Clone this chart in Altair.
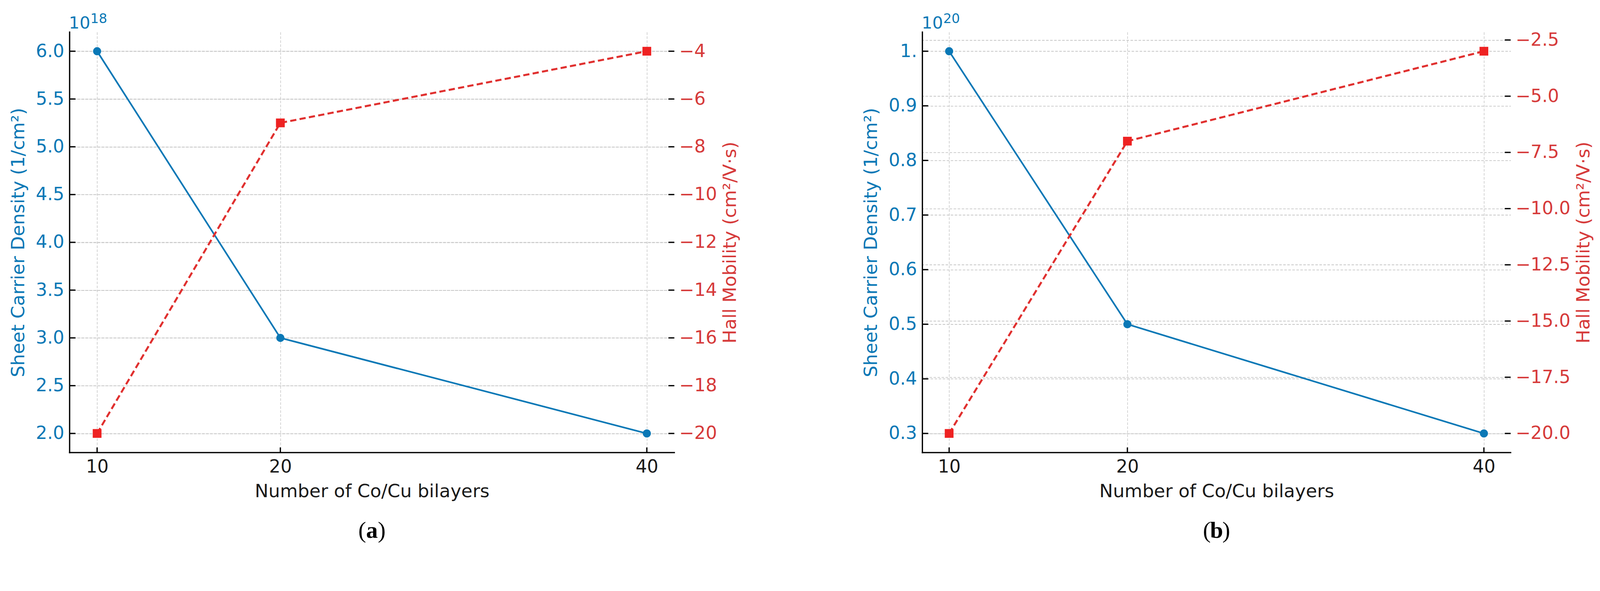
import altair as alt
import pandas as pd

# ---------------- data ----------------
bilayers = [10, 20, 40]

a_density = [6.0, 3.0, 2.0]        # sheet carrier density, x10^18 1/cm²
a_mobility = [-20.0, -7.0, -4.0]   # Hall mobility, cm²/V·s

b_density = [1.0, 0.5, 0.3]        # sheet carrier density, x10^20 1/cm²
b_mobility = [-20.0, -7.0, -3.0]   # Hall mobility, cm²/V·s

x_ticks = [10, 20, 40]
a_left_ticks = [2.0, 2.5, 3.0, 3.5, 4.0, 4.5, 5.0, 5.5, 6.0]
a_left_labels = ["2.0", "2.5", "3.0", "3.5", "4.0", "4.5", "5.0", "5.5", "6.0"]
a_right_ticks = [-20, -18, -16, -14, -12, -10, -8, -6, -4]
b_left_ticks = [0.3, 0.4, 0.5, 0.6, 0.7, 0.8, 0.9, 1.0]
b_left_labels = ["0.3", "0.4", "0.5", "0.6", "0.7", "0.8", "0.9", "1."]
b_right_ticks = [-20.0, -17.5, -15.0, -12.5, -10.0, -7.5, -5.0, -2.5]

exp_base = "10"
exp_powers = ["18", "20"]
captions = ["a", "b"]

x_title = "Number of Co/Cu bilayers"
left_title = "Sheet Carrier Density (1/cm²)"
right_title = "Hall Mobility (cm²/V·s)"

# ---------------- style ----------------
BLUE = "#0a78b6"
RED_LINE = "#e0302f"
RED_MARK = "#ee2222"
RED_TEXT = "#d63a3a"
GRID = "#c6c6c6"
FONT = "DejaVu Sans"
TICK = 16
H = 1150
LAB = 49
TIT = 50


def label_expr(ticks, labels):
    parts = [f"abs(datum.value - ({t})) < 1e-6 ? '{l}'" for t, l in zip(ticks, labels)]
    return " : ".join(parts) + " : ''"


def panel(density, mobility, lticks, llabels, ldom, rticks, rfmt, rdom, W, power, caption):
    df = pd.DataFrame({"n": bilayers, "d": density, "m": mobility})
    base = alt.Chart(df)
    one = alt.Chart(pd.DataFrame({"k": [0]}))

    xenc = alt.X(
        "n:Q",
        scale=alt.Scale(domain=[8.5, 41.5], nice=False, zero=False),
        axis=alt.Axis(
            values=x_ticks, format="d", title=x_title, orient="bottom",
            domain=False, ticks=False, tickSize=0,
            labelPadding=15, labelFontSize=LAB, labelColor="#1a1a1a", labelFont=FONT,
            titleFontSize=TIT, titleColor="#1a1a1a", titleFont=FONT, titleFontWeight="normal",
            titlePadding=18, grid=True, gridColor=GRID, gridDash=[7, 4], gridWidth=1.6,
        ),
    )
    yleft = alt.Y(
        "d:Q",
        scale=alt.Scale(domain=ldom, nice=False, zero=False),
        axis=alt.Axis(
            orient="left", values=lticks, labelExpr=label_expr(lticks, llabels),
            title=left_title, domain=False, ticks=False, tickSize=0,
            labelPadding=15, labelFontSize=LAB, labelColor=BLUE, labelFont=FONT,
            titleFontSize=TIT, titleColor=BLUE, titleFont=FONT, titleFontWeight="normal",
            titlePadding=22, grid=True, gridColor=GRID, gridDash=[7, 4], gridWidth=2,
        ),
    )
    yright = alt.Y(
        "m:Q",
        scale=alt.Scale(domain=rdom, nice=False, zero=False),
        axis=alt.Axis(
            orient="right", values=rticks, format=rfmt, title=right_title,
            titleAngle=270, titleBaseline="top", domain=False, ticks=False, tickSize=0,
            labelPadding=13, labelFontSize=LAB, labelColor=RED_TEXT, labelFont=FONT,
            titleFontSize=TIT, titleColor=RED_TEXT, titleFont=FONT,
            titleFontWeight="normal", titlePadding=12,
            grid=True, gridColor=GRID, gridDash=[7, 4], gridWidth=2,
        ),
    )

    blue = base.mark_line(
        color=BLUE, strokeWidth=4.5,
        point=alt.OverlayMarkDef(filled=True, size=500, color=BLUE, strokeWidth=0),
    ).encode(x=xenc, y=yleft)

    red = base.mark_line(
        color=RED_LINE, strokeWidth=5.5, strokeDash=[17, 9],
        point=alt.OverlayMarkDef(filled=True, shape="square", size=576, color=RED_MARK,
                                 strokeWidth=0),
    ).encode(x=xenc, y=yright)

    # inward tick marks, placed through the chart's own scales
    lt = alt.Chart(pd.DataFrame({"d": lticks})).mark_rule(color="black", strokeWidth=3.5).encode(
        y=yleft, x=alt.value(0), x2=alt.value(TICK))
    rt = alt.Chart(pd.DataFrame({"m": rticks})).mark_rule(color="black", strokeWidth=3.5).encode(
        y=yright, x=alt.value(W - TICK), x2=alt.value(W))
    xt = alt.Chart(pd.DataFrame({"n": x_ticks})).mark_rule(color="black", strokeWidth=3.5).encode(
        x=xenc, y=alt.value(H - TICK + 2), y2=alt.value(H))

    left_spine = one.mark_rule(color="black", strokeWidth=3.5, strokeCap="square").encode(
        x=alt.value(0), y=alt.value(0), y2=alt.value(H))
    bottom_spine = one.mark_rule(color="black", strokeWidth=3.5, strokeCap="square").encode(
        x=alt.value(0), x2=alt.value(W), y=alt.value(H))

    exp_10 = one.mark_text(
        text=exp_base, color=BLUE, fontSize=46, font=FONT, align="left", baseline="alphabetic"
    ).encode(x=alt.value(-2), y=alt.value(-10))
    exp_p = one.mark_text(
        text=power, color=BLUE, fontSize=36, font=FONT, align="left", baseline="alphabetic"
    ).encode(x=alt.value(57), y=alt.value(-25))

    cap_y = H + 214
    cap_a = one.mark_text(text=caption, fontSize=64, font="Liberation Serif",
                          fontWeight="bold", color="black", align="center",
                          baseline="middle").encode(x=alt.value(W / 2), y=alt.value(cap_y))
    cap_l = one.mark_text(text="(", fontSize=64, font="Liberation Serif", color="black",
                          align="right", baseline="middle", dx=-16).encode(
        x=alt.value(W / 2), y=alt.value(cap_y))
    cap_r = one.mark_text(text=")", fontSize=64, font="Liberation Serif", color="black",
                          align="left", baseline="middle", dx=16).encode(
        x=alt.value(W / 2), y=alt.value(cap_y))

    left_part = alt.layer(blue, lt)
    right_part = alt.layer(red, rt)
    return alt.layer(
        left_part, right_part, xt, left_spine, bottom_spine, exp_10, exp_p, cap_l, cap_a, cap_r
    ).resolve_scale(y="independent").properties(width=W, height=H)


pa = panel(a_density, a_mobility, a_left_ticks, a_left_labels, [1.8, 6.2],
           a_right_ticks, "d", [-20.8, -3.2], 1655, exp_powers[0], captions[0])
pb = panel(b_density, b_mobility, b_left_ticks, b_left_labels, [0.265, 1.035],
           b_right_ticks, ".1f", [-20.85, -2.15], 1610, exp_powers[1], captions[1])

chart = alt.hconcat(pa, pb, spacing=335).properties(
    padding={"left": 17, "top": -24, "right": 10, "bottom": 0},
    background="white",
).configure_view(stroke=None)

chart.save("out.html", embed_options={"renderer": "svg", "actions": False})
